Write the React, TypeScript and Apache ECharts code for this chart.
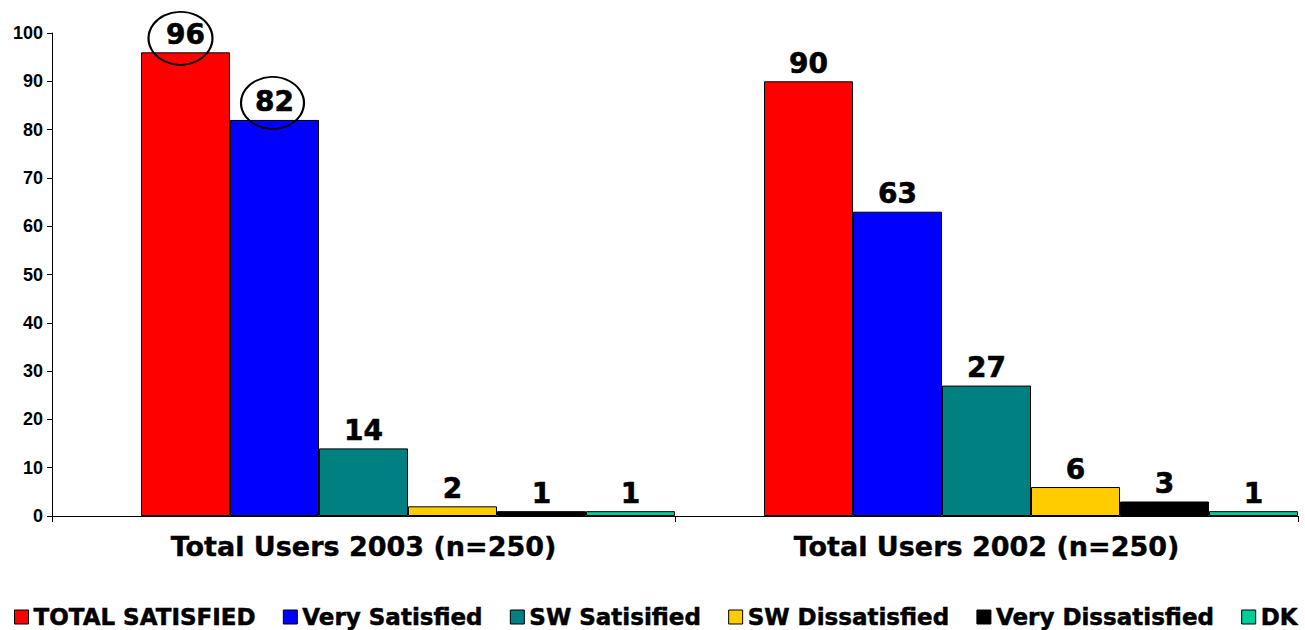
import React, { useEffect, useRef } from "react";
import * as echarts from "echarts";

const categories = ["Total Users 2003 (n=250)", "Total Users 2002 (n=250)"];
const seriesNames = ["TOTAL SATISFIED", "Very Satisfied", "SW Satisified", "SW Dissatisfied", "Very Dissatisfied", "DK"];
const totalSatisfied = [96, 90];
const verySatisfied = [82, 63];
const swSatisfied = [14, 27];
const swDissatisfied = [2, 6];
const veryDissatisfied = [1, 3];
const dk = [1, 1];
const colors = ["#FF0000", "#0000FF", "#008080", "#FFCC00", "#000000", "#00CC99"];
const yTicks = { min: 0, max: 100, interval: 10 };

export default function App() {
  const ref = useRef<HTMLDivElement>(null);
  useEffect(() => {
    if (!ref.current) return;
    const chart = echarts.init(ref.current, null, { renderer: "svg" });
    const values = [totalSatisfied, verySatisfied, swSatisfied, swDissatisfied, veryDissatisfied, dk];
    const labelStyle = {
      show: true,
      position: "top",
      distance: 4,
      color: "#000",
      fontFamily: "DejaVu Sans",
      fontWeight: "bold",
      fontSize: 28,
      textBorderColor: "#000",
      textBorderWidth: 0.6,
    };
    const ring = (coord: [number, number], size: [number, number], dx: number, dy: number) => ({
      coord,
      symbol: "circle",
      symbolSize: size,
      symbolOffset: [dx, dy],
      itemStyle: { color: "rgba(0,0,0,0)", borderColor: "#000", borderWidth: 2 },
      label: { show: false },
    });
    const series: any[] = [
      {
        name: "spacer",
        type: "bar",
        data: ["-", "-"],
        barGap: "0%",
        barCategoryGap: "0%",
      },
    ];
    seriesNames.forEach((name, i) => {
      const s: any = {
        name,
        type: "bar",
        data: values[i],
        barGap: "0%",
        barCategoryGap: "0%",
        itemStyle: { color: colors[i], borderColor: "#000", borderWidth: 1 },
        label: labelStyle,
      };
      if (i === 0) {
        s.markPoint = { silent: true, data: [ring([0, 96], [64, 53], -5, -14)] };
      }
      if (i === 1) {
        s.markPoint = { silent: true, data: [ring([0, 82], [63, 52], -2, -17)] };
      }
      series.push(s);
    });
    chart.setOption({
      animation: false,
      backgroundColor: "#fff",
      grid: { left: 52, right: 7, top: 33, bottom: 114, containLabel: false },
      legend: {
        data: seriesNames,
        left: 9,
        top: 600,
        itemWidth: 14,
        itemHeight: 14,
        itemGap: 27,
        icon: "rect",
        itemStyle: { borderColor: "#000", borderWidth: 1 },
        textStyle: {
          fontFamily: "DejaVu Sans",
          fontWeight: "bold",
          fontSize: 23,
          lineHeight: 24,
          color: "#000",
          textBorderColor: "#000",
          textBorderWidth: 0.5,
        },
      },
      xAxis: {
        type: "category",
        data: categories,
        axisLine: { lineStyle: { color: "#000", width: 1 } },
        axisTick: { show: true, length: 6, lineStyle: { color: "#000" } },
        axisLabel: {
          color: "#000",
          fontFamily: "DejaVu Sans",
          fontWeight: "bold",
          fontSize: 27,
          margin: 17,
          textBorderColor: "#000",
          textBorderWidth: 0.4,
        },
      },
      yAxis: {
        type: "value",
        min: yTicks.min,
        max: yTicks.max,
        interval: yTicks.interval,
        splitLine: { show: false },
        axisLine: { show: true, lineStyle: { color: "#000", width: 1 } },
        axisTick: { show: true, length: 5, lineStyle: { color: "#000" } },
        axisLabel: {
          color: "#000",
          fontFamily: "Liberation Sans",
          fontWeight: "bold",
          fontSize: 18,
          margin: 9,
        },
      },
      series,
    });
    return () => chart.dispose();
  }, []);
  return <div ref={ref} style={{ width: 1305, height: 630, position: "absolute", left: 0, top: 0 }} />;
}
